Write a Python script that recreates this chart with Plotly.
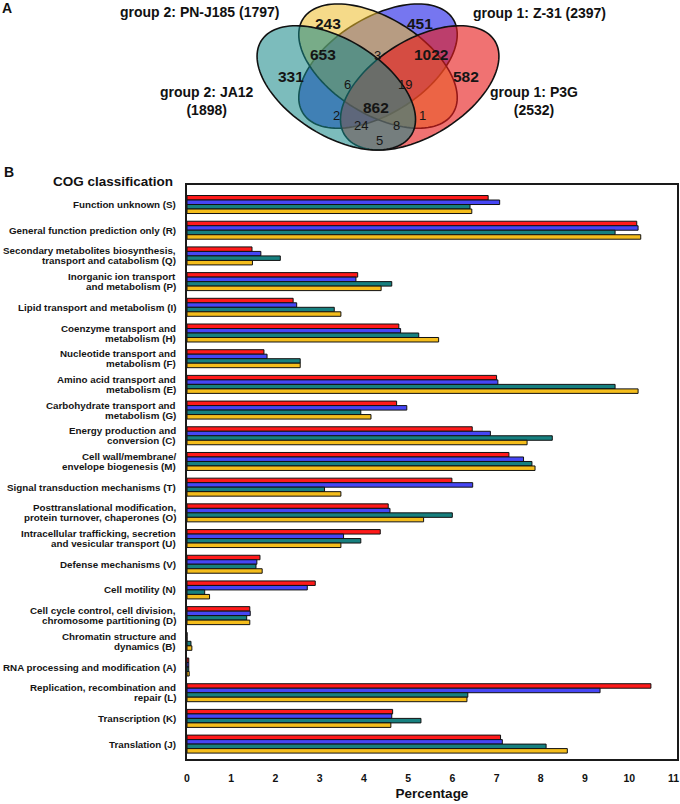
import numpy as np
import plotly.graph_objects as go

# ---------------- data ----------------
categories = [
    "Function unknown (S)",
    "General function prediction only (R)",
    "Secondary metabolites biosynthesis,<br>transport and catabolism (Q)",
    "Inorganic ion transport<br>and metabolism (P)",
    "Lipid transport and metabolism (I)",
    "Coenzyme transport and<br>metabolism (H)",
    "Nucleotide transport and<br>metabolism (F)",
    "Amino acid transport and<br>metabolism (E)",
    "Carbohydrate transport and<br>metabolism (G)",
    "Energy production and<br>conversion (C)",
    "Cell wall/membrane/<br>envelope biogenesis (M)",
    "Signal transduction mechanisms (T)",
    "Posttranslational modification,<br>protein turnover, chaperones (O)",
    "Intracellular trafficking, secretion<br>and vesicular transport (U)",
    "Defense mechanisms (V)",
    "Cell motility (N)",
    "Cell cycle control, cell division,<br>chromosome partitioning (D)",
    "Chromatin structure and<br>dynamics (B)",
    "RNA processing and modification (A)",
    "Replication, recombination and<br>repair (L)",
    "Transcription (K)",
    "Translation (J)",
]
p3g = [6.81, 10.17, 1.47, 3.86, 2.40, 4.79, 1.74, 7.00, 4.74, 6.45, 7.28,
       5.99, 4.55, 4.37, 1.65, 2.90, 1.42, 0.0, 0.04, 10.49, 4.65, 7.09]
z31 = [7.07, 10.20, 1.67, 3.82, 2.48, 4.83, 1.81, 7.03, 4.97, 6.86, 7.61,
       6.46, 4.59, 3.54, 1.58, 2.72, 1.43, 0.0, 0.04, 9.34, 4.63, 7.13]
ja12 = [6.40, 9.68, 2.11, 4.63, 3.33, 5.24, 2.56, 9.68, 3.93, 8.26, 7.80,
        3.11, 6.00, 3.93, 1.56, 0.40, 1.35, 0.09, 0.04, 6.35, 5.29, 8.12]
pnj185 = [6.44, 10.26, 1.48, 4.39, 3.48, 5.69, 2.56, 10.20, 4.16, 7.69, 7.87,
          3.48, 5.35, 3.48, 1.70, 0.51, 1.42, 0.11, 0.05, 6.33, 4.61, 8.60]
x_ticks = list(range(0, 12))

venn_sets = ["group 2: JA12<br>(1898)", "group 2: PN-J185 (1797)",
             "group 1: Z-31 (2397)", "group 1: P3G<br>(2532)"]
venn_regions = ["JA12", "PN", "Z31", "P3G", "JA12&PN", "PN&Z31", "Z31&P3G",
                "JA12&PN&Z31", "PN&Z31&P3G", "all", "JA12&Z31", "PN&P3G",
                "JA12&Z31&P3G", "JA12&PN&P3G", "JA12&P3G"]
venn_counts = [331, 243, 451, 582, 653, 3, 1022, 6, 19, 862, 2, 1, 24, 8, 5]

# ---------------- layout geometry (pixels) ----------------
W, H = 680, 804
ML, MR, MT, MB = 187, 3, 0, 45
PW, PH = W - ML - MR, H - MT - MB  # 490 x 759
BAR_TOP = 185
FONT = "Liberation Sans, Arial, sans-serif"


def pxx(x):
    return (x - ML) / PW


def pxy(y):
    return (PH - y) / PH


# label positions for venn regions (pixels)
region_pos = {
    "JA12": (291, 76), "PN": (328, 23), "Z31": (420, 23), "P3G": (466, 76),
    "JA12&PN": (323, 54), "PN&Z31": (377, 55), "Z31&P3G": (431, 54),
    "JA12&PN&Z31": (347, 84), "PN&Z31&P3G": (405, 84), "all": (376, 107),
    "JA12&Z31": (336, 115), "PN&P3G": (422, 115), "JA12&Z31&P3G": (361, 125),
    "JA12&PN&P3G": (396, 125), "JA12&P3G": (379, 140),
}
big_regions = {"JA12", "PN", "Z31", "P3G", "JA12&PN", "Z31&P3G", "all"}
set_label_pos = [(207, 101), (200, 12), (539, 13), (534, 101)]

fig = go.Figure()

bar_colors = ["#FF1A1A", "#4646F5", "#17807F", "#F4BD1C"]
series = [("P3G", p3g), ("Z-31", z31), ("JA12", ja12), ("PN-J185", pnj185)]
for (name, vals), col in zip(series, bar_colors):
    fig.add_trace(go.Bar(
        y=categories, x=vals, orientation="h", name=name,
        marker=dict(color=col, line=dict(color="#111111", width=1)),
        showlegend=False,
    ))

# ---------------- venn ellipses (drawn bottom -> top) ----------------
ell_specs = [
    (0.50, 0.57, 45, "rgba(40,40,232,0.64)"),     # Z-31 blue
    (0.50, 0.57, 135, "rgba(236,188,40,0.55)"),   # PN-J185 yellow
    (0.65, 0.47, 45, "rgba(230,28,28,0.62)"),     # P3G red
    (0.35, 0.47, 135, "rgba(22,135,135,0.56)"),   # JA12 teal
]
A_SEMI, B_SEMI = 0.35, 0.20
SX, SY, CX0, CY0 = 278, 218, 378, 150
t = np.linspace(0, 2 * np.pi, 121)
shapes = []
for cx, cy, rot, fill in ell_specs:
    th = np.deg2rad(rot)
    u = cx + A_SEMI * np.cos(th) * np.cos(t) - B_SEMI * np.sin(th) * np.sin(t)
    v = cy + A_SEMI * np.sin(th) * np.cos(t) + B_SEMI * np.cos(th) * np.sin(t)
    X = CX0 + (u - 0.5) * SX
    Y = CY0 - (v - 0.185) * SY
    path = "M " + " L ".join(f"{a:.2f},{b:.2f}" for a, b in zip(X, Y)) + " Z"
    shapes.append(dict(type="path", path=path, xref="x2", yref="y2",
                       fillcolor=fill, line=dict(color="#111111", width=1.6),
                       layer="above"))

annotations = []
for reg, cnt in zip(venn_regions, venn_counts):
    x, y = region_pos[reg]
    big = reg in big_regions
    annotations.append(dict(
        x=x, y=y, xref="x2", yref="y2", xanchor="center", yanchor="middle",
        text=f"<b>{cnt}</b>" if big else str(cnt), showarrow=False,
        font=dict(family=FONT, size=15.5 if big else 13, color="#151515")))
for lab, (x, y) in zip(venn_sets, set_label_pos):
    annotations.append(dict(
        x=x, y=y, xref="x2", yref="y2", xanchor="center", yanchor="middle",
        text=f"<b>{lab}</b>", showarrow=False, align="center",
        font=dict(family=FONT, size=14, color="#111111")))

annotations += [
    dict(x=pxx(7), y=pxy(8), xref="paper", yref="paper", text="<b>A</b>",
         xanchor="center", yanchor="middle", showarrow=False,
         font=dict(family=FONT, size=14, color="#111111")),
    dict(x=pxx(8.5), y=pxy(172), xref="paper", yref="paper", text="<b>B</b>",
         xanchor="center", yanchor="middle", showarrow=False,
         font=dict(family=FONT, size=14, color="#111111")),
    dict(x=pxx(113), y=pxy(181), xref="paper", yref="paper",
         text="<b>COG classification</b>", xanchor="center", yanchor="middle",
         showarrow=False, font=dict(family=FONT, size=13.5, color="#111111")),
]

# category labels: one annotation per line, tight line spacing
LINE_GAP = 10
for cat in categories:
    lines = cat.split("<br>")
    k = len(lines)
    for i, ln in enumerate(lines):
        off = (i - (k - 1) / 2) * LINE_GAP
        annotations.append(dict(
            x=pxx(177.5), y=cat, xref="paper", yref="y", xanchor="right",
            yanchor="middle", yshift=-off, text=f"<b>{ln}</b>", showarrow=False,
            font=dict(family=FONT, size=9.8, color="#151515")))

n = len(categories)
fig.update_layout(
    width=W, height=H,
    margin=dict(l=ML, r=MR, t=MT, b=MB, autoexpand=False),
    paper_bgcolor="white", plot_bgcolor="white",
    barmode="group", bargap=0.3, bargroupgap=0.0,
    font=dict(family=FONT, color="#111111"),
    shapes=shapes, annotations=annotations,
    xaxis=dict(
        domain=[0, 1], range=[0, 11.08], tickvals=x_ticks,
        ticks="outside", ticklen=8, tickcolor="rgba(0,0,0,0)",
        tickfont=dict(size=10.5, family=FONT, weight="bold"),
        showgrid=False, zeroline=False,
        showline=True, mirror=True, linecolor="#1a1a1a", linewidth=2,
        title=dict(text="<b>Percentage</b>", standoff=6,
                   font=dict(size=13.5, family=FONT)),
        anchor="y", automargin=False,
    ),
    yaxis=dict(
        domain=[0, (PH - BAR_TOP) / PH],
        type="category", categoryorder="array", categoryarray=categories,
        range=[n - 1 + 0.58, -0.76],
        showticklabels=False, ticks="",
        showgrid=False, zeroline=False,
        showline=True, mirror=True, linecolor="#1a1a1a", linewidth=2,
        anchor="x", automargin=False,
    ),
    xaxis2=dict(domain=[0, 1], range=[ML, ML + PW], visible=False,
                anchor="y2", fixedrange=True),
    yaxis2=dict(domain=[(PH - 160) / PH, 1], range=[160, 0], visible=False,
                anchor="x2", fixedrange=True),
)

fig.write_html(
    "out.html",
    config={"displayModeBar": False},
    post_script="document.body.style.margin='0';document.body.style.padding='0';",
)
